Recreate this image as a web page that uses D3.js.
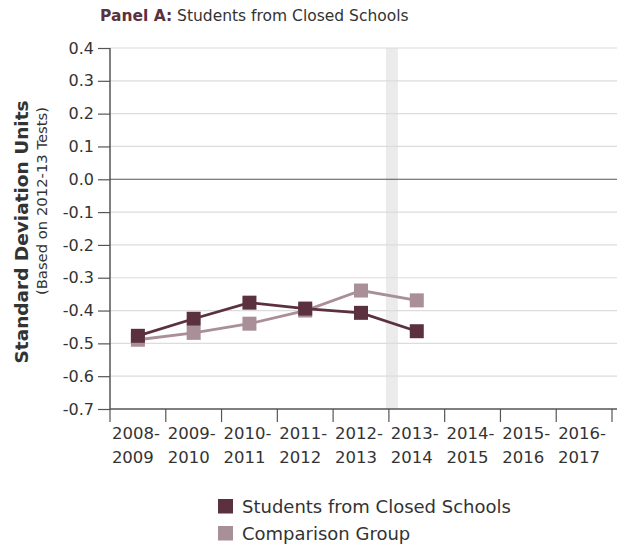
<!DOCTYPE html>
<html><head><meta charset="utf-8">
<script src="https://cdn.jsdelivr.net/npm/d3@7"></script>
<style>body{margin:0;background:#fff}svg{display:block;font-family:"DejaVu Sans",sans-serif}</style>
</head><body><svg id="c" width="617" height="548"></svg>
<script>
const categories = ["2008-2009","2009-2010","2010-2011","2011-2012","2012-2013","2013-2014","2014-2015","2015-2016","2016-2017"];
const closedSchools = [-0.477,-0.425,-0.376,-0.394,-0.407,-0.463];
const comparisonGroup = [-0.489,-0.468,-0.440,-0.400,-0.339,-0.369];
const yTicks = [0.4,0.3,0.2,0.1,0.0,-0.1,-0.2,-0.3,-0.4,-0.5,-0.6,-0.7];
const seriesNames = ["Students from Closed Schools","Comparison Group"];
const colors = ["#5b3140","#a98f98"];

const svg = d3.select("#c");
const pL = 110, pR = 612, pT = 48, pB = 409;
const x = d3.scaleBand().domain(categories).range([pL, pR]);
const y = d3.scaleLinear().domain([-0.7, 0.4]).range([pB, pT]);

// highlight band at boundary between 2012-2013 and 2013-2014
const bx = x("2013-2014");
svg.append("rect").attr("x", bx - 3).attr("y", pT).attr("width", 12).attr("height", pB - pT).attr("fill", "#ebebeb");

// gridlines
svg.append("g").selectAll("line").data(yTicks.filter(d => d !== 0 && d !== -0.7)).join("line")
  .attr("x1", pL).attr("x2", 617).attr("y1", d => y(d)).attr("y2", d => y(d))
  .attr("stroke", "#dcdcdc").attr("stroke-width", 1.2);
svg.append("line").attr("x1", pL).attr("x2", 617).attr("y1", y(0)).attr("y2", y(0)).attr("stroke", "#555").attr("stroke-width", 1.2);

// y axis
const yAxis = svg.append("g").attr("transform", `translate(${pL},0)`)
  .call(d3.axisLeft(y).tickValues(yTicks).tickSize(12).tickPadding(4).tickFormat(d => d3.format(".1f")(d).replace("−","-")));
yAxis.select(".domain").attr("stroke", "#555").attr("stroke-width", 1.5).attr("d", `M0,${pT}V${pB}`);
yAxis.selectAll(".tick line").attr("stroke", "#555").attr("stroke-width", 1.2);
yAxis.selectAll(".tick text").attr("font-size", 16).attr("fill", "#333").attr("font-family", "DejaVu Sans");

// x axis
const xAxisG = svg.append("g").attr("transform", `translate(0,${pB})`);
xAxisG.append("line").attr("x1", pL).attr("x2", 617).attr("y1", 0).attr("y2", 0).attr("stroke", "#555").attr("stroke-width", 1.5);
const bounds = categories.map(c => x(c)).concat([pR]);
xAxisG.selectAll("line.tk").data(bounds).join("line").attr("class", "tk")
  .attr("x1", d => d).attr("x2", d => d).attr("y1", 0).attr("y2", 13).attr("stroke", "#555").attr("stroke-width", 1.2);
const xl = xAxisG.selectAll("text").data(categories).join("text")
  .attr("font-size", 16.5).attr("fill", "#333").attr("text-anchor", "middle");
xl.append("tspan").attr("x", d => x(d) + x.bandwidth() / 2 - 2).attr("y", 30).text(d => d.split("-")[0] + "-");
xl.append("tspan").attr("x", d => x(d) + x.bandwidth() / 2 - 5).attr("y", 54).text(d => d.split("-")[1]);

// lines & markers
const line = d3.line().x((d, i) => x(categories[i]) + x.bandwidth() / 2).y(d => y(d));
[[comparisonGroup, colors[1]], [closedSchools, colors[0]]].forEach(([vals, col]) => {
  svg.append("path").datum(vals).attr("d", line).attr("fill", "none").attr("stroke", col).attr("stroke-width", 2.8);
  svg.append("g").selectAll("rect").data(vals).join("rect")
    .attr("x", (d, i) => x(categories[i]) + x.bandwidth() / 2 - 7).attr("y", d => y(d) - 7)
    .attr("width", 14).attr("height", 14).attr("fill", col);
});

// title
const t = svg.append("text").attr("x", 100).attr("y", 21).attr("font-size", 15.5);
t.append("tspan").attr("font-weight", "bold").attr("fill", "#5b3140").text("Panel A:");
t.append("tspan").attr("fill", "#333").text(" Students from Closed Schools");

// y-axis title
svg.append("text").attr("transform", "translate(28,232) rotate(-90)").attr("text-anchor", "middle")
  .attr("font-size", 18.5).attr("font-weight", "bold").attr("fill", "#333").text("Standard Deviation Units");
svg.append("text").attr("transform", "translate(47,201) rotate(-90)").attr("text-anchor", "middle")
  .attr("font-size", 14.8).attr("fill", "#333").text("(Based on 2012-13 Tests)");

// legend
const lg = svg.append("g").selectAll("g").data(seriesNames).join("g")
  .attr("transform", (d, i) => `translate(218,${499 + i * 27})`);
lg.append("rect").attr("width", 15).attr("height", 14.5).attr("fill", (d, i) => colors[i]);
lg.append("text").attr("x", 24).attr("y", 14).attr("font-size", 18).attr("fill", "#333").text(d => d);
</script></body></html>
